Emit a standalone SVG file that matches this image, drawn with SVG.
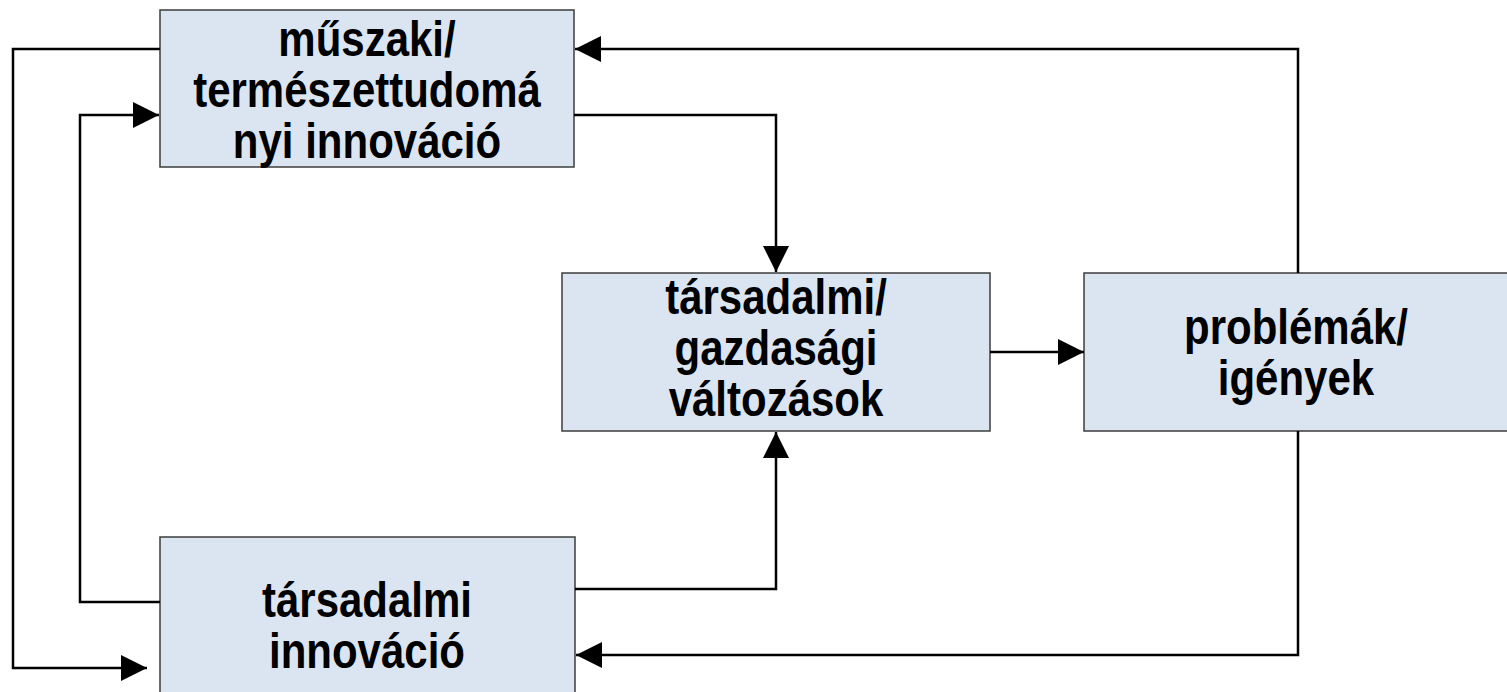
<svg xmlns="http://www.w3.org/2000/svg" width="1507" height="692" viewBox="0 0 1507 692">
<style>
.box{fill:#dbe5f1;stroke:#3c3c3c;stroke-width:1.5}
.lbl{font-family:"Liberation Sans",Arial,sans-serif;font-weight:bold;font-size:42px;fill:#000;text-anchor:middle}
.con{fill:none;stroke:#000;stroke-width:2.5}
</style>
<defs>
<marker id="ah" markerUnits="userSpaceOnUse" markerWidth="28" markerHeight="28" refX="26" refY="13" orient="auto">
<path d="M0,0 L26,13 L0,26 Z" fill="#000"/>
</marker>
</defs>
<rect x="0" y="0" width="1507" height="692" fill="#fff"/>
<g id="n1">
<rect class="box" x="160" y="10" width="414" height="157"/>
<text class="lbl" transform="translate(367,107) scale(1,1.18)"><tspan x="0" y="-43.2">műszaki/</tspan><tspan x="0" y="0">természettudomá</tspan><tspan x="0" y="43.2">nyi innováció</tspan></text>
</g>
<g id="n2">
<rect class="box" x="562" y="273" width="428" height="158"/>
<text class="lbl" transform="translate(776,365) scale(1,1.18)"><tspan x="0" y="-43.2">társadalmi/</tspan><tspan x="0" y="0">gazdasági</tspan><tspan x="0" y="43.2">változások</tspan></text>
</g>
<g id="n3">
<rect class="box" x="1084" y="273" width="430" height="158"/>
<text class="lbl" transform="translate(1296,344) scale(1,1.18)"><tspan x="0" y="0">problémák/</tspan><tspan x="0" y="43.2">igények</tspan></text>
</g>
<g id="n4">
<rect class="box" x="160" y="537" width="415" height="170"/>
<text class="lbl" transform="translate(367,617) scale(1,1.18)"><tspan x="0" y="0">társadalmi</tspan><tspan x="0" y="43.2">innováció</tspan></text>
</g>
<g id="connectors">
<path class="con" d="M160,49 H13 V668 H147" marker-end="url(#ah)"/>
<path class="con" d="M160,602 H80 V115 H159" marker-end="url(#ah)"/>
<path class="con" d="M574,115 H776 V272" marker-end="url(#ah)"/>
<path class="con" d="M575,589 H776 V432" marker-end="url(#ah)"/>
<path class="con" d="M990,352 H1084" marker-end="url(#ah)"/>
<path class="con" d="M1298,273 V49 H575" marker-end="url(#ah)"/>
<path class="con" d="M1298,431 V655 H576" marker-end="url(#ah)"/>
</g>
</svg>
